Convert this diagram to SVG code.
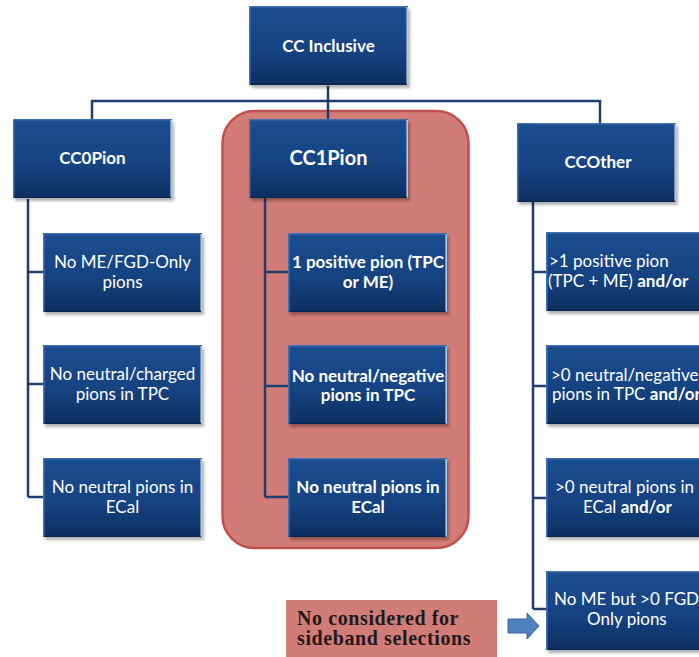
<svg xmlns="http://www.w3.org/2000/svg" xmlns:xlink="http://www.w3.org/1999/xlink" width="699" height="657" viewBox="0 0 699 657">
  <style>
    .t { font-family: Lato, "Open Sans", "Liberation Sans", sans-serif; fill: #ffffff; text-anchor: middle; }
    .s { text-anchor: start; }
    .r { font-size: 17px; }
    .b { font-weight: bold; }
    .h { font-size: 17px; font-weight: bold; }
    .link { fill: none; stroke: #1f3d6e; stroke-width: 2.5; }
    .note { font-family: "Liberation Serif", "DejaVu Serif", serif; font-weight: bold; font-size: 20px; letter-spacing: 0.6px; fill: #1e1a1a; }
  </style>
  <defs>
    <linearGradient id="boxFill" x1="0" y1="0" x2="0" y2="1">
      <stop offset="0" stop-color="#1b4d8f"/>
      <stop offset="0.55" stop-color="#164382"/>
      <stop offset="1" stop-color="#0d2f60"/>
    </linearGradient>
    <filter id="soft" x="-10%" y="-10%" width="130%" height="130%">
      <feGaussianBlur stdDeviation="1.5"/>
    </filter>
    <!-- bevelled navy box, 159 x 79 -->
    <g id="box">
      <rect x="2" y="3" width="159" height="79" fill="#000" opacity="0.3" filter="url(#soft)"/>
      <rect width="159" height="79" fill="url(#boxFill)"/>
      <path d="M0.8,79 V0.8 H158.2" fill="none" stroke="#3e6fae" stroke-width="1.6"/>
      <path d="M158.2,1 V79" fill="none" stroke="#a8c8ea" stroke-width="1.6"/>
      <path d="M1,78.3 H158" fill="none" stroke="#0a2550" stroke-width="1.2"/>
    </g>
  </defs>

  <rect width="699" height="657" fill="#ffffff"/>

  <!-- highlighted CC1Pion branch -->
  <rect x="222.5" y="111" width="246" height="437" rx="32" fill="#d27c78" stroke="#c0504d" stroke-width="2.5"/>

  <g id="connectors">
    <path class="link" d="M328,86 V119"/>
    <path class="link" d="M92,119 V101 H600 V123"/>
    <path class="link" d="M28,199 V497 M28,272 H43 M28,384 H43 M28,497 H43"/>
    <path class="link" d="M265,198 V497 M265,272 H288 M265,386 H288 M265,497 H288"/>
    <path class="link" d="M533,202 V609 M533,272 H546 M533,386 H546 M533,498 H546 M533,609 H546"/>
  </g>

  <g id="cc-inclusive">
    <use xlink:href="#box" x="249" y="6"/>
    <text class="t h" x="328.5" y="52">CC Inclusive</text>
  </g>

  <g id="cc0pion">
    <use xlink:href="#box" x="13" y="119"/>
    <text class="t h" x="92.5" y="164">CC0Pion</text>
  </g>
  <g id="cc0-me">
    <use xlink:href="#box" x="43" y="233"/>
    <text class="t r" x="122.5" y="268">No ME/FGD-Only</text>
    <text class="t r" x="122.5" y="288">pions</text>
  </g>
  <g id="cc0-tpc">
    <use xlink:href="#box" x="43" y="345"/>
    <text class="t r" x="122.5" y="380">No neutral/charged</text>
    <text class="t r" x="122.5" y="400">pions in TPC</text>
  </g>
  <g id="cc0-ecal">
    <use xlink:href="#box" x="43" y="458"/>
    <text class="t r" x="122.5" y="493">No neutral pions in</text>
    <text class="t r" x="122.5" y="513">ECal</text>
  </g>

  <g id="cc1pion">
    <use xlink:href="#box" x="249" y="119"/>
    <text class="t b" x="328.5" y="165" font-size="20">CC1Pion</text>
  </g>
  <g id="cc1-pos">
    <use xlink:href="#box" x="288" y="233"/>
    <text class="t r b" x="368" y="268">1 positive pion (TPC</text>
    <text class="t r b" x="368" y="288">or ME)</text>
  </g>
  <g id="cc1-tpc">
    <use xlink:href="#box" x="288" y="345"/>
    <text class="t r b" x="368" y="382">No neutral/negative</text>
    <text class="t r b" x="368" y="401">pions in TPC</text>
  </g>
  <g id="cc1-ecal">
    <use xlink:href="#box" x="288" y="458"/>
    <text class="t r b" x="368" y="493">No neutral pions in</text>
    <text class="t r b" x="368" y="513">ECal</text>
  </g>

  <g id="ccother">
    <use xlink:href="#box" x="517" y="123"/>
    <text class="t h" x="598" y="168">CCOther</text>
  </g>
  <g id="cco-pos">
    <use xlink:href="#box" x="546" y="232"/>
    <text class="t r s" x="549" y="267">&gt;1 positive pion</text>
    <text class="t r s" x="548" y="287">(TPC + ME) <tspan class="b">and/or</tspan></text>
  </g>
  <g id="cco-tpc">
    <use xlink:href="#box" x="546" y="345"/>
    <text class="t r s" x="551" y="381">&gt;0 neutral/negative</text>
    <text class="t r s" x="552" y="400">pions in TPC <tspan class="b">and/or</tspan></text>
  </g>
  <g id="cco-ecal">
    <use xlink:href="#box" x="546" y="458"/>
    <text class="t r s" x="555" y="493">&gt;0 neutral pions in</text>
    <text class="t r s" x="583" y="513">ECal <tspan class="b">and/or</tspan></text>
  </g>
  <g id="cco-fgd">
    <use xlink:href="#box" x="546" y="571"/>
    <text class="t r s" x="554" y="605">No ME but &gt;0 FGD-</text>
    <text class="t r s" x="587" y="625">Only pions</text>
  </g>

  <g id="note">
    <rect x="286" y="600" width="211" height="57" fill="#d27c78"/>
    <text class="note" x="297" y="625">No considered for</text>
    <text class="note" x="297" y="645">sideband selections</text>
  </g>
  <polygon id="note-arrow" points="508,619 527,619 527,613 539,626 527,639 527,633 508,633" fill="#4f81bd" stroke="#3a679c" stroke-width="1"/>
</svg>
